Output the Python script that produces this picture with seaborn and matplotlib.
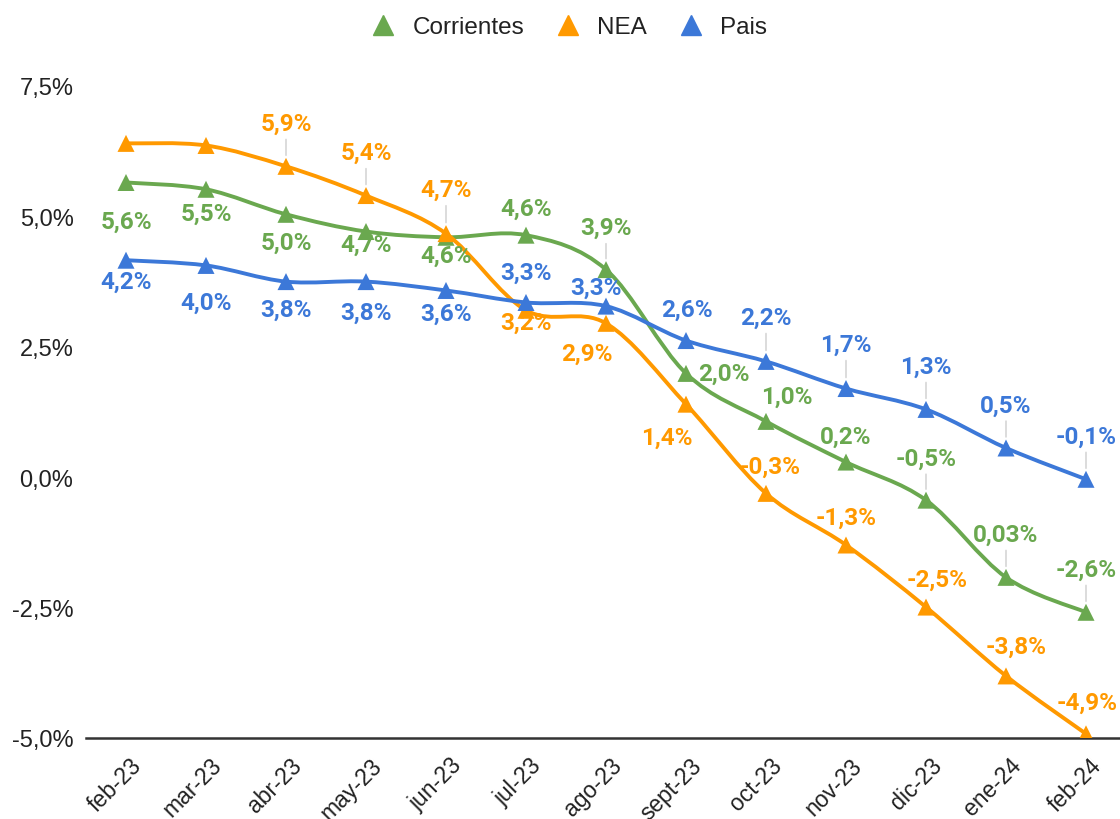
import numpy as np
import pandas as pd
import matplotlib
matplotlib.use("Agg")
import matplotlib.pyplot as plt
import matplotlib.transforms as mtransforms
import seaborn as sns
from matplotlib.path import Path
from matplotlib.patches import PathPatch
from matplotlib.lines import Line2D
from matplotlib.ticker import FuncFormatter

# ---------------- data ----------------
months = ["feb-23", "mar-23", "abr-23", "may-23", "jun-23", "jul-23", "ago-23",
          "sept-23", "oct-23", "nov-23", "dic-23", "ene-24", "feb-24"]
corrientes = [5.65, 5.52, 5.04, 4.71, 4.60, 4.64, 3.98, 1.99, 1.07, 0.29, -0.44, -1.92, -2.59]
nea = [6.40, 6.36, 5.96, 5.40, 4.67, 3.20, 2.95, 1.40, -0.31, -1.30, -2.49, -3.81, -4.92]
pais = [4.16, 4.06, 3.75, 3.75, 3.58, 3.35, 3.28, 2.62, 2.22, 1.70, 1.30, 0.56, -0.04]

corrientes_labels = ["5,6%", "5,5%", "5,0%", "4,7%", "4,6%", "4,6%", "3,9%",
                     "2,0%", "1,0%", "0,2%", "-0,5%", "0,03%", "-2,6%"]
nea_labels = ["", "", "5,9%", "5,4%", "4,7%", "3,2%", "2,9%",
              "1,4%", "-0,3%", "-1,3%", "-2,5%", "-3,8%", "-4,9%"]
pais_labels = ["4,2%", "4,0%", "3,8%", "3,8%", "3,6%", "3,3%", "3,3%",
               "2,6%", "2,2%", "1,7%", "1,3%", "0,5%", "-0,1%"]

series_names = ["Corrientes", "NEA", "Pais"]
yticks = [-5.0, -2.5, 0.0, 2.5, 5.0, 7.5]

# ---------------- styling ----------------
colors = {"Corrientes": "#6aa84f", "NEA": "#ff9900", "Pais": "#3c78d8"}

# label offsets in pixels (dx, dy), dy positive = up
corr_off = [(0, -39), (0, -24), (0, -28), (0, -13), (0, -18), (0, 27), (0, 42),
            (38, 0), (21, 25), (0, 26), (0, 42), (0, 43), (0, 43)]
nea_off = [(0, 0), (0, 0), (0, 43), (0, 43), (0, 44), (0, -12), (-19, -30),
           (-19, -33), (4, 27), (0, 28), (11, 28), (10, 30), (1, 32)]
pais_off = [(0, -21), (0, -37), (0, -28), (0, -31), (0, -23), (0, 30), (-10, 19),
            (1, 31), (0, 44), (0, 44), (0, 43), (0, 43), (0, 43)]

sns.set_theme(style="white")
plt.rcParams["font.family"] = ["Liberation Sans", "DejaVu Sans"]

df = pd.DataFrame({
    "mes": months * 3,
    "x": list(range(len(months))) * 3,
    "valor": corrientes + nea + pais,
    "serie": ["Corrientes"] * len(months) + ["NEA"] * len(months) + ["Pais"] * len(months),
})

W, H = 1120, 820
fig = plt.figure(figsize=(W / 100, H / 100), dpi=100)
ax = fig.add_axes([86 / W, 81 / H, 1040 / W, 652 / H])


def smooth_path(xs, ys):
    pts = np.column_stack([xs, ys]).astype(float)
    n = len(pts)
    verts = [pts[0]]
    codes = [Path.MOVETO]
    for i in range(n - 1):
        p0 = pts[i - 1] if i > 0 else pts[i]
        p1 = pts[i]
        p2 = pts[i + 1]
        p3 = pts[i + 2] if i + 2 < n else pts[i + 1]
        c1 = p1 + (p2 - p0) / 6.0
        c2 = p2 - (p3 - p1) / 6.0
        verts += [c1, c2, p2]
        codes += [Path.CURVE4] * 3
    return Path(verts, codes)


for k, name in enumerate(series_names):
    sub = df[df["serie"] == name]
    patch = PathPatch(smooth_path(sub["x"].values, sub["valor"].values),
                      facecolor="none", edgecolor=colors[name], lw=2.8,
                      zorder=2 + k * 0.1, capstyle="round", joinstyle="round")
    ax.add_patch(patch)

sns.scatterplot(data=df, x="x", y="valor", hue="serie", palette=colors,
                marker="^", s=150, linewidth=0, legend=False, ax=ax, zorder=4)

label_sets = [(corrientes, corrientes_labels, corr_off, "Corrientes"),
              (nea, nea_labels, nea_off, "NEA"),
              (pais, pais_labels, pais_off, "Pais")]
for vals, labs, offs, name in label_sets:
    for i, (v, t, (dx, dy)) in enumerate(zip(vals, labs, offs)):
        if not t:
            continue
        kw = {}
        if dy >= 40:
            kw["arrowprops"] = dict(arrowstyle="-", color="#d9d9d9", lw=1.3,
                                    shrinkA=1, shrinkB=8)
        ax.annotate(t, xy=(i, v), xytext=(dx, dy), textcoords="offset pixels",
                    ha="center", va="center", fontsize=17.5, fontweight="bold",
                    family=["Roboto", "DejaVu Sans"],
                    color=colors[name], zorder=5, **kw)

ax.set_xlim(-0.5, len(months) - 0.5)
ax.set_ylim(-5, 7.5)
ax.set_yticks(yticks)
ax.yaxis.set_major_formatter(FuncFormatter(lambda v, p: f"{v:.1f}%".replace(".", ",")))
ax.set_xticks(range(len(months)))
ax.set_xticklabels(months, rotation=45, ha="right", rotation_mode="anchor")
ax.tick_params(axis="y", length=0, pad=9, labelsize=17, labelcolor="#222222")
ax.tick_params(axis="x", length=0, pad=11, labelsize=16.5, labelcolor="#222222")
shift = mtransforms.ScaledTranslation(4 / 100, 0, fig.dpi_scale_trans)
for lab in ax.get_xticklabels():
    lab.set_transform(lab.get_transform() + shift)
ax.set_xlabel("")
ax.set_ylabel("")
for s in ["top", "right", "left"]:
    ax.spines[s].set_visible(False)
ax.spines["bottom"].set_color("#333333")
ax.spines["bottom"].set_linewidth(1.8)
ax.grid(False)

handles = [Line2D([], [], marker="^", color=colors[n], linestyle="none", markersize=14)
           for n in series_names]
fig.legend(handles, series_names, loc="center", bbox_to_anchor=(0.506, 1 - 28 / H),
           ncol=3, frameon=False, fontsize=17.5, handletextpad=0.5, columnspacing=1.1,
           handlelength=1.4, labelcolor="#222222")

fig.savefig("out.png", dpi=100)
